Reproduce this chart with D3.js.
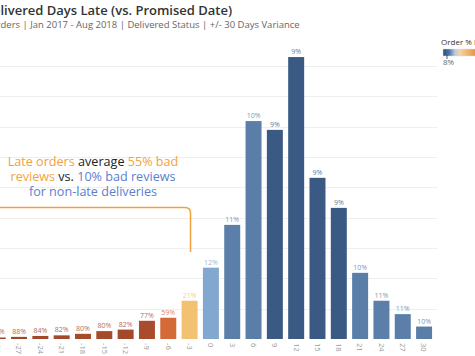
<!DOCTYPE html>
<html><head><meta charset="utf-8">
<script src="https://cdn.jsdelivr.net/npm/d3@7"></script>
<style>
html,body{margin:0;padding:0;background:#fff;overflow:hidden;}
svg{display:block;}
text{font-family:"Open Sans","Noto Sans",sans-serif;}
</style></head>
<body>
<svg id="chart" width="475" height="356"></svg>
<script>
// ---- data ----
const days = [-30,-27,-24,-21,-18,-15,-12,-9,-6,-3,0,3,6,9,12,15,18,21,24,27,30];
const orders = [50,70,100,120,170,260,310,600,700,1260,2350,3760,7180,6890,9290,5310,4320,2180,1260,820,410];
const badPct = [86,88,84,82,80,80,82,77,59,21,12,11,10,9,9,9,9,10,11,11,10];
const gridTicks = [1000,2000,3000,4000,5000,6000,7000,8000,9000];
const titleText = "Delivered Days Late (vs. Promised Date)";
const subtitleText = "Orders | Jan 2017 - Aug 2018 | Delivered Status | +/- 30 Days Variance";
const legendTitle = "Order % Bad Reviews";
const legendMinLabel = "8%";
const noteLines = [
  [["Late orders","orange"],["average","black"],["55% bad","orange"]],
  [["reviews","orange"],["vs.","black"],["10% bad reviews","blue"]],
  [["for non-late deliveries","blue"]]
];

const svg = d3.select("#chart");

const x = d3.scaleBand().domain(days).range([-15.6, 437.4]).paddingInner(0.25).paddingOuter(0.25);
const y = d3.scaleLinear().domain([0, 10000]).range([339, 35.5]);

const color = d3.scaleLinear()
  .domain([9, 10, 11, 12, 21, 59, 77, 88])
  .range(["#3a5a84", "#5a7ea8", "#5b7fa9", "#83a8cf", "#f3c172", "#d46a37", "#a84c2d", "#a0462a"])
  .interpolate(d3.interpolateRgb);
const labelColor = d => d3.interpolateRgb(color(d), "#ffffff")(0.2);

// gridlines
svg.append("g").selectAll("line").data(gridTicks).join("line")
  .attr("x1", -15.6).attr("x2", 437.4)
  .attr("y1", d => Math.round(y(d)) + 0.5).attr("y2", d => Math.round(y(d)) + 0.5)
  .attr("stroke", "#efefef").attr("stroke-width", 1);

// bars
const data = days.map((d, i) => ({day: d, n: orders[i], pct: badPct[i]}));
svg.append("g").selectAll("rect").data(data).join("rect")
  .attr("x", d => x(d.day))
  .attr("width", x.bandwidth())
  .attr("y", d => y(d.n))
  .attr("height", d => y(0) - y(d.n))
  .attr("fill", d => color(d.pct));

// value labels
svg.append("g").selectAll("text").data(data).join("text")
  .attr("x", d => x(d.day) + x.bandwidth() / 2)
  .attr("y", d => y(d.n) - 3)
  .attr("text-anchor", "middle")
  .attr("font-size", 7)
  .attr("fill", d => labelColor(d.pct))
  .text(d => d.pct + "%");

// x axis
const xAxis = svg.append("g").attr("transform", "translate(0,339)")
  .call(d3.axisBottom(x).tickSize(0).tickFormat(d => d));
xAxis.select(".domain").remove();
xAxis.selectAll("text")
  .attr("transform", "rotate(90)")
  .attr("x", 4).attr("y", 0).attr("dy", "0.35em")
  .attr("text-anchor", "start")
  .attr("font-size", 7.5)
  .attr("font-family", "'Open Sans', sans-serif")
  .attr("fill", "#999");

// helper to measure text
function measure(str, size, weight) {
  const t = svg.append("text").attr("font-size", size).attr("font-weight", weight || 400).text(str);
  const w = t.node().getComputedTextLength();
  t.remove();
  return w;
}

// title (left part cropped)
const deW = measure("De", 13, 600);
svg.append("text").attr("x", -deW + 0.5).attr("y", 15)
  .attr("font-size", 13).attr("font-weight", 600).attr("fill", "#333")
  .text(titleText);
const orW = measure("Or", 9.5);
svg.append("text").attr("x", -orW + 0.5).attr("y", 28)
  .attr("font-size", 9.5).attr("fill", "#666")
  .text(subtitleText);

// legend
const defs = svg.append("defs");
const grad = defs.append("linearGradient").attr("id", "lg");
[[0,"#2d4d7a"],[0.06,"#4c72a2"],[0.12,"#b9cde2"],[0.17,"#f6d3a6"],[0.32,"#ea9544"],[1,"#a84a2a"]]
  .forEach(s => grad.append("stop").attr("offset", s[0]).attr("stop-color", s[1]));
svg.append("text").attr("x", 441).attr("y", 45).attr("font-size", 8).attr("fill", "#333").text(legendTitle);
svg.append("rect").attr("x", 443).attr("y", 49).attr("width", 100).attr("height", 7)
  .attr("fill", "url(#lg)").attr("stroke", "#ddd").attr("stroke-width", 0.5);
svg.append("line").attr("x1", 447).attr("x2", 447).attr("y1", 55).attr("y2", 59).attr("stroke", "#333").attr("stroke-width", 0.8);
svg.append("text").attr("x", 443).attr("y", 65).attr("font-size", 8).attr("fill", "#666").text(legendMinLabel);

// annotation: each coloured run is its own text, laid out centred per line
const noteColors = {orange: "#f2a23c", black: "#222", blue: "#5b80cf"};
const noteSize = 12.6;
const spaceW = measure("a b", noteSize) - measure("ab", noteSize);
noteLines.forEach((line, i) => {
  const widths = line.map(([s]) => measure(s, noteSize));
  const total = d3.sum(widths) + spaceW * (line.length - 1);
  let cx = 93 - total / 2;
  line.forEach(([s, c], j) => {
    svg.append("text").attr("x", cx).attr("y", 165.5 + i * 15)
      .attr("font-size", noteSize).attr("fill", noteColors[c]).text(s);
    cx += widths[j] + spaceW;
  });
});
svg.append("path")
  .attr("d", "M -5 207.5 H 185 Q 190.5 207.5 190.5 213 V 252")
  .attr("fill", "none").attr("stroke", "#f2a23c").attr("stroke-width", 1.5);
</script>
</body></html>
